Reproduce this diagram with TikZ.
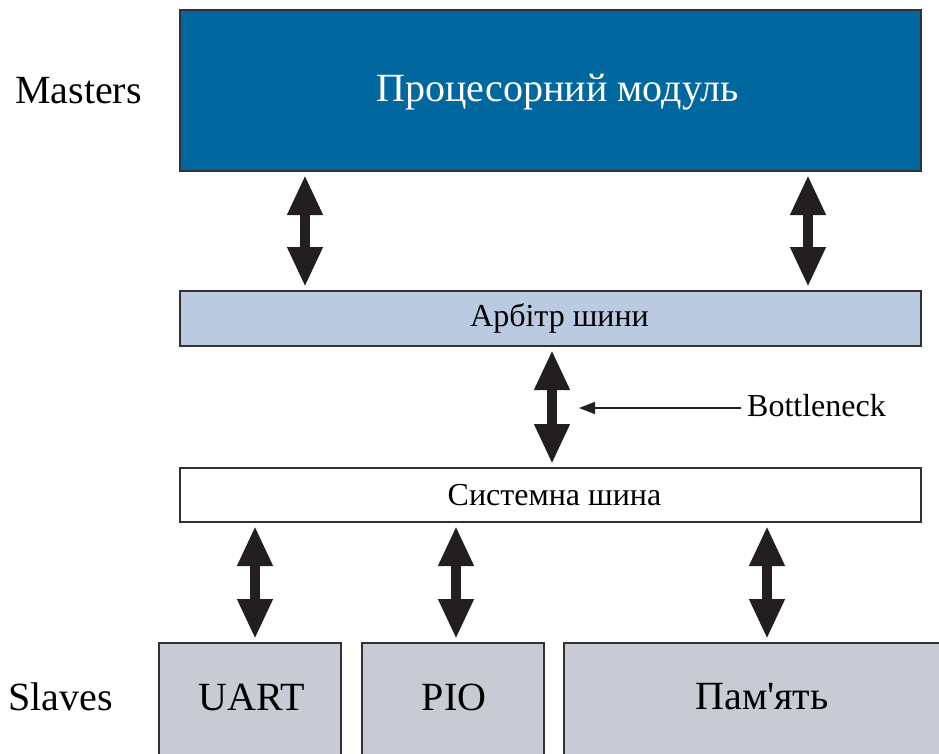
\documentclass[tikz,border=0pt]{standalone}
\usepackage{fontspec}
\setmainfont{Liberation Serif}[Ligatures=TeXOff]
\usetikzlibrary{arrows.meta}

\definecolor{cpublue}{RGB}{0,103,159}
\definecolor{arbblue}{RGB}{186,203,225}
\definecolor{slavegray}{RGB}{200,203,211}
\definecolor{edgegray}{RGB}{50,50,50}
\definecolor{arrowdark}{RGB}{35,31,32}

\tikzset{
  unitbox/.style={draw=edgegray, line width=2.6pt, anchor=north west,
    inner sep=0pt, outer sep=0pt},
  bigtext/.style={font=\fontsize{40}{44}\selectfont},
  smalltext/.style={font=\fontsize{32}{36}\selectfont},
  busarrow/.style={draw=arrowdark, line width=10pt,
    {Triangle[length=40pt,width=33pt]}-{Triangle[length=40pt,width=33pt]},
    shorten <=4pt, shorten >=4pt},
  pointer/.style={draw=arrowdark, line width=1.4pt,
    -{Triangle[length=16pt,width=12pt]}}
}

\begin{document}
\begin{tikzpicture}[x=1pt, y=-1pt]
  \useasboundingbox (0,0) rectangle (939,753);
  \clip (0,0) rectangle (939,753);

  % masters
  \node[unitbox, fill=cpublue, minimum width=741pt, minimum height=161pt]
    (cpu) at (180,10) {};
  \node[bigtext, text=white] (cputxt) at ([xshift=7pt,yshift=-2pt]cpu.center) {Процесорний модуль};

  % bus arbiter and system bus
  \node[unitbox, fill=arbblue, minimum width=741pt, minimum height=55pt]
    (arb) at (180,291) {};
  \node[smalltext] (arbtxt) at ([xshift=9pt]arb.center) {Арбітр шини};

  \node[unitbox, fill=white, minimum width=741pt, minimum height=54pt]
    (bus) at (180,468) {};
  \node[smalltext] (bustxt) at ([xshift=4pt]bus.center) {Системна шина};

  % slaves
  \node[unitbox, fill=slavegray, minimum width=182pt, minimum height=130pt]
    (uart) at (159,643) {};
  \node[unitbox, fill=slavegray, minimum width=182pt, minimum height=130pt]
    (pio) at (362,643) {};
  \node[unitbox, fill=slavegray, minimum width=400pt, minimum height=130pt]
    (mem) at (564,643) {};
  \node[bigtext] (uarttxt) at (252,697) {UART};
  \node[bigtext] (piotxt) at (454,697) {PIO};
  \node[bigtext] (memtxt) at (762,697) {Пам'ять};

  % row labels
  \node[bigtext, anchor=west, inner sep=0pt] (masters) at (15,91) {Masters};
  \node[bigtext, anchor=west, inner sep=0pt] (slaves) at (8,697) {Slaves};

  % connection columns
  \coordinate (c1) at (305,0);
  \coordinate (c2) at (808,0);
  \coordinate (c3) at (552,0);
  \coordinate (c4) at (255,0);
  \coordinate (c5) at (456,0);
  \coordinate (c6) at (767,0);

  \draw[busarrow] (c1 |- cpu.south) -- (c1 |- arb.north);
  \draw[busarrow] (c2 |- cpu.south) -- (c2 |- arb.north);
  \draw[busarrow] (c3 |- arb.south) -- (c3 |- bus.north);
  \draw[busarrow] (c4 |- bus.south) -- (c4 |- uart.north);
  \draw[busarrow] (c5 |- bus.south) -- (c5 |- pio.north);
  \draw[busarrow] (c6 |- bus.south) -- (c6 |- mem.north);

  % bottleneck marker
  \node[smalltext, anchor=west, inner sep=0pt] (bneck) at (747,406) {Bottleneck};
  \coordinate (bntip) at (579,408);
  \draw[pointer] (bneck.west |- bntip) ++(-6,0) -- (bntip);
\end{tikzpicture}
\end{document}
